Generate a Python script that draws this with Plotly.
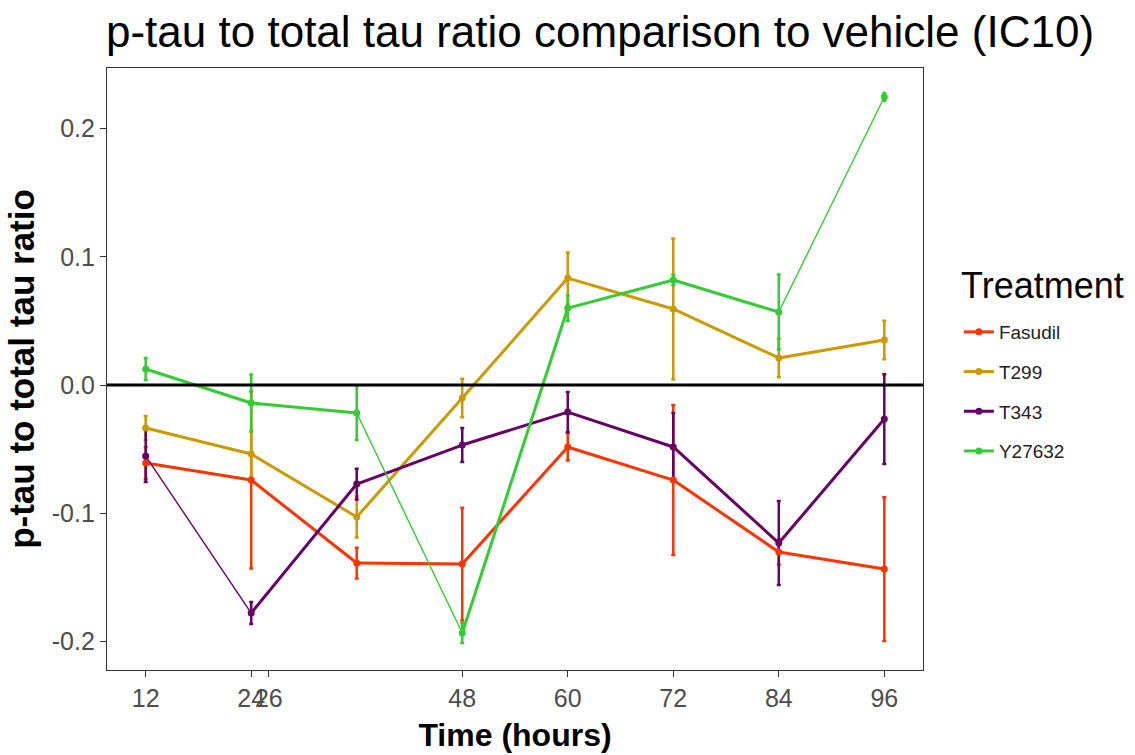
import plotly.graph_objects as go

# Sampling times (hours) and axis tick setup
hours = [12, 24, 36, 48, 60, 72, 84, 96]
x_tickvals = [12, 24, 26, 48, 60, 72, 84, 96]
x_ticktext = ["12", "24", "26", "48", "60", "72", "84", "96"]
y_tickvals = [-0.2, -0.1, 0.0, 0.1, 0.2]
y_ticktext = ["-0.2", "-0.1", "0.0", "0.1", "0.2"]

# Mean p-tau / total tau ratio relative to vehicle, per treatment
fasudil = [-0.0608, -0.0741, -0.1388, -0.1396, -0.0483, -0.0741, -0.1302, -0.1435]
t299 = [-0.0335, -0.0538, -0.1029, -0.0101, 0.0834, 0.0593, 0.0211, 0.0351]
t343 = [-0.0554, -0.1778, -0.0772, -0.0468, -0.0211, -0.0483, -0.1232, -0.0265]
y27632 = [0.0125, -0.0140, -0.0218, -0.1934, 0.0600, 0.0819, 0.0569, 0.2246]

# Error (half-width of error bars)
fasudil_err = [0.0125, 0.069, 0.012, 0.044, 0.0105, 0.0585, 0.010, 0.056]
t299_err = [0.0094, 0.018, 0.016, 0.015, 0.020, 0.055, 0.015, 0.015]
t343_err = [0.0203, 0.0086, 0.012, 0.0133, 0.0156, 0.0265, 0.0328, 0.035]
y27632_err = [0.0086, 0.0222, 0.021, 0.0078, 0.0098, 0.004, 0.0292, 0.003]

treatments = ["Fasudil", "T299", "T343", "Y27632"]
means = {"Fasudil": fasudil, "T299": t299, "T343": t343, "Y27632": y27632}
errors = {"Fasudil": fasudil_err, "T299": t299_err, "T343": t343_err, "Y27632": y27632_err}
colors = {"Fasudil": "#FF3300", "T299": "#CC9900", "T343": "#660066", "Y27632": "#33CC33"}

# Segments (index of starting point) drawn with a thinner line
thin_segments = {"T343": [0], "Y27632": [2, 6]}

FONT = "Liberation Sans, Arial, sans-serif"
THICK, THIN = 3, 1.4

fig = go.Figure()

# Error bars first, so lines and points sit on top of them
for name in treatments:
    fig.add_trace(go.Scatter(
        x=hours, y=means[name], mode="markers",
        marker=dict(size=1, color=colors[name], opacity=0),
        error_y=dict(type="data", array=errors[name], color=colors[name],
                     thickness=2.5, width=2),
        showlegend=False, hoverinfo="skip"))

# Connecting lines, split into regular and thin segments
for name in treatments:
    ys = means[name]
    thin = thin_segments.get(name, [])
    for width, pick in ((THICK, lambda i: i not in thin), (THIN, lambda i: i in thin)):
        xs_seg, ys_seg = [], []
        for i in range(len(hours) - 1):
            if pick(i):
                xs_seg += [hours[i], hours[i + 1], None]
                ys_seg += [ys[i], ys[i + 1], None]
        if xs_seg:
            fig.add_trace(go.Scatter(
                x=xs_seg, y=ys_seg, mode="lines",
                line=dict(color=colors[name], width=width),
                showlegend=False, hoverinfo="skip"))

# Points
for name in treatments:
    fig.add_trace(go.Scatter(
        x=hours, y=means[name], mode="markers",
        marker=dict(size=7, color=colors[name]),
        showlegend=False, name=name))

# Legend entries
for name in treatments:
    fig.add_trace(go.Scatter(
        x=[None], y=[None], mode="lines+markers", name=name,
        legendgroup=name,
        line=dict(color=colors[name], width=THICK),
        marker=dict(size=7, color=colors[name])))

# Reference line at zero
fig.add_shape(type="line", xref="paper", x0=0, x1=1, yref="y", y0=0, y1=0,
              line=dict(color="black", width=3), layer="above")

# Legend heading
fig.add_annotation(text="Treatment", xref="paper", yref="paper",
                   x=(959 - 107) / 816, xanchor="left",
                   y=(670 - 285) / 602, yanchor="middle", showarrow=False,
                   font=dict(family=FONT, size=36, color="black"))

fig.update_layout(
    width=1135, height=755,
    margin=dict(l=107, r=212, t=68, b=85),
    paper_bgcolor="white", plot_bgcolor="white",
    font=dict(family=FONT, color="#4D4D4D"),
    title=dict(text="p-tau to total tau ratio comparison to vehicle (IC10)",
               font=dict(family=FONT, size=44, color="black"),
               x=106 / 1135, xref="container", xanchor="left",
               y=1 - 32 / 755, yref="container", yanchor="middle"),
    xaxis=dict(range=[7.6, 100.4], tickmode="array",
               tickvals=x_tickvals, ticktext=x_ticktext, tickangle=0,
               automargin=False,
               showgrid=False, zeroline=False,
               showline=True, mirror=True, linecolor="#333333", linewidth=1.2,
               ticks="outside", ticklen=6, tickwidth=1.2, tickcolor="#333333",
               tickfont=dict(family=FONT, size=25, color="#4D4D4D"),
               title=dict(text="Time (hours)", standoff=12,
                          font=dict(family=FONT, size=32, color="black", weight="bold"))),
    yaxis=dict(range=[-0.2222, 0.2472], tickmode="array",
               tickvals=y_tickvals, ticktext=y_ticktext,
               automargin=False,
               showgrid=False, zeroline=False,
               showline=True, mirror=True, linecolor="#333333", linewidth=1.2,
               ticks="outside", ticklen=6, tickwidth=1.2, tickcolor="#333333",
               tickfont=dict(family=FONT, size=25, color="#4D4D4D"),
               title=dict(text="p-tau to total tau ratio", standoff=6,
                          font=dict(family=FONT, size=35, color="black", weight="bold"))),
    legend=dict(x=1.044, xanchor="left", y=(670 - 313) / 602, yanchor="top",
                font=dict(family=FONT, size=19, color="#222222"),
                itemwidth=30, tracegroupgap=12, traceorder="grouped",
                bgcolor="rgba(0,0,0,0)"),
)

fig.write_html("out.html")
